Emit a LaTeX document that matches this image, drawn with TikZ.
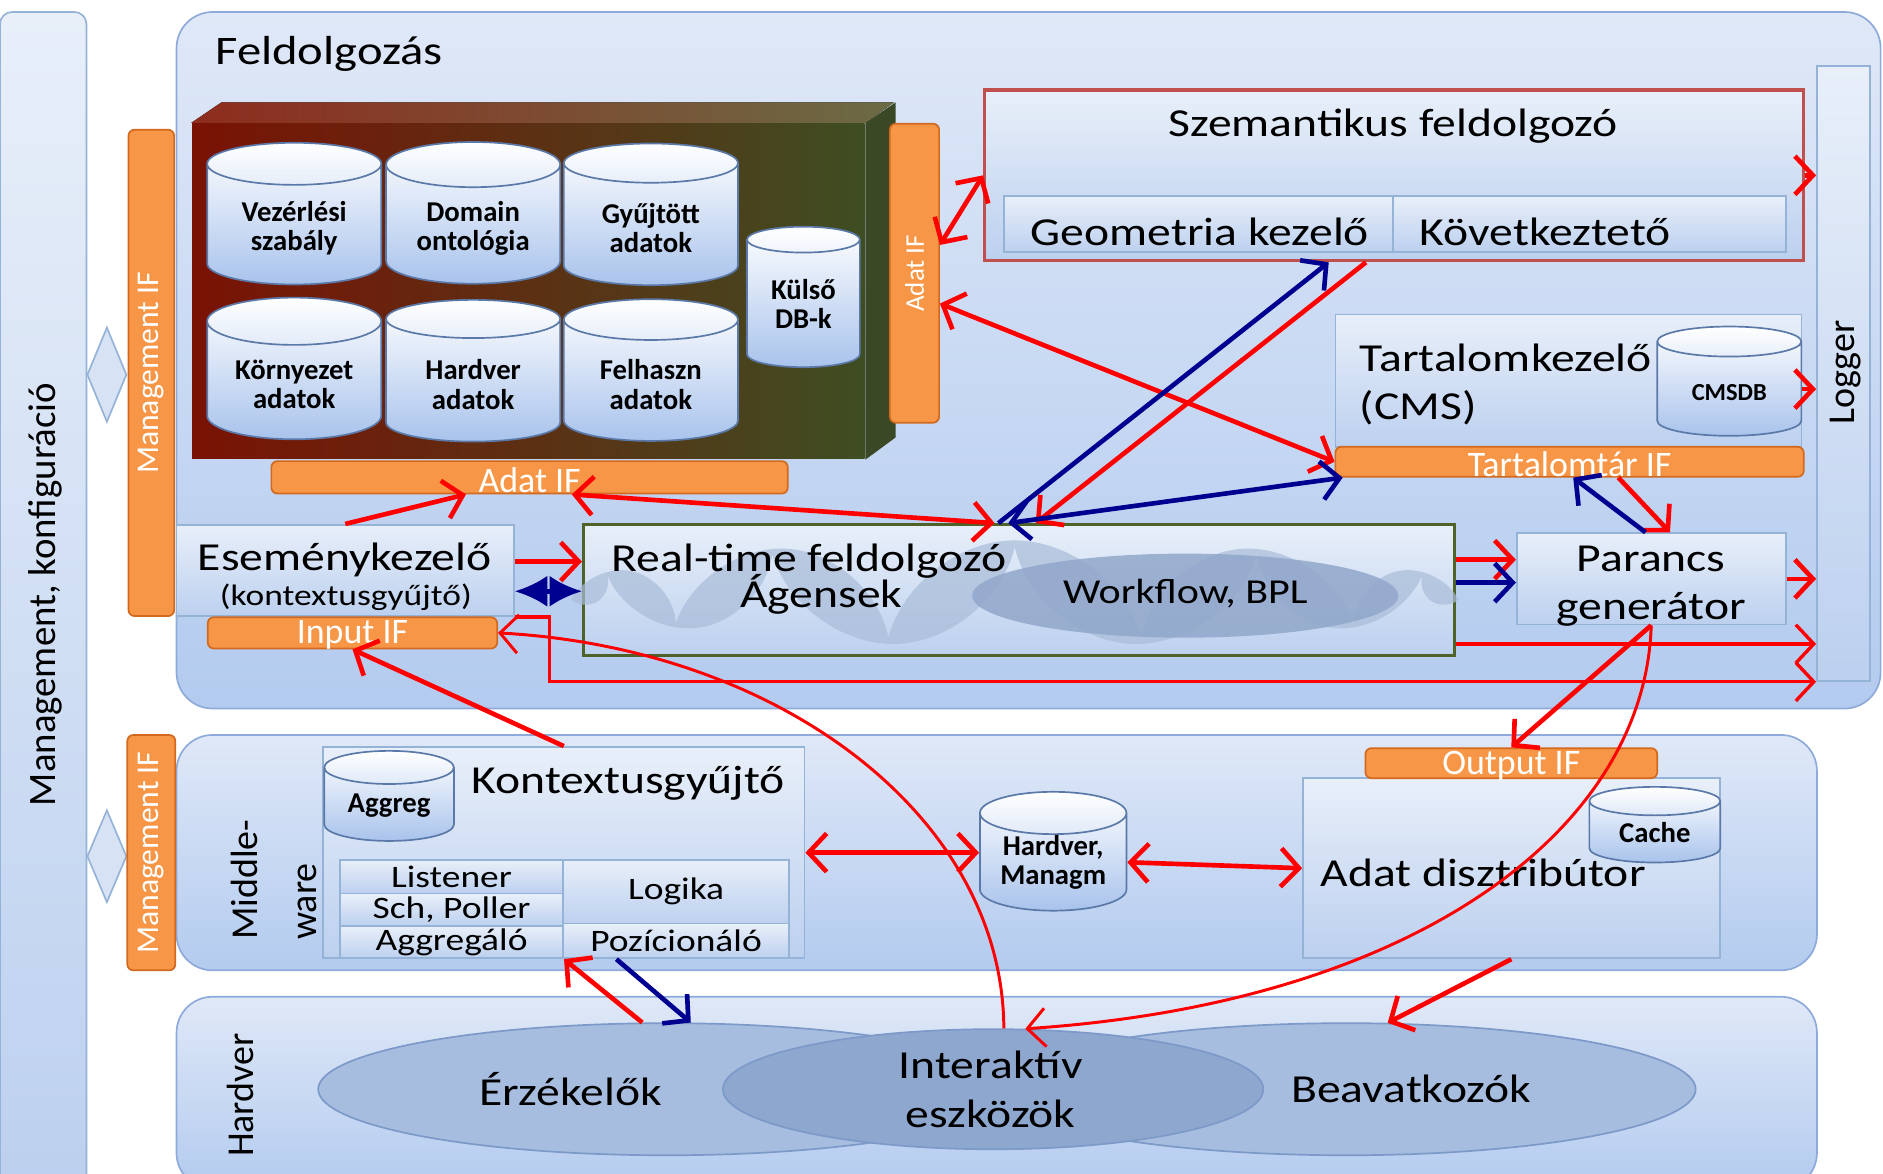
\documentclass[tikz,border=0pt]{standalone}
\usepackage{fontspec}
\setmainfont{Carlito}[FakeStretch=1.2]
\newfontfamily\narrowfont{Carlito}
\usetikzlibrary{shapes.geometric,shapes.symbols,fit,arrows.meta}
\definecolor{panelTop}{HTML}{DFE8F7}
\definecolor{panelBot}{HTML}{B3CBEF}
\definecolor{panelLine}{HTML}{8EAADB}
\definecolor{boxTop}{HTML}{E8EFF9}
\definecolor{boxBot}{HTML}{BCD0EF}
\definecolor{boxLine}{HTML}{95B3D7}
\definecolor{ifOrange}{HTML}{F79646}
\definecolor{ifLine}{HTML}{D2691E}
\definecolor{arrRed}{HTML}{FF0000}
\definecolor{arrBlue}{HTML}{000090}
\definecolor{dbRed}{HTML}{7A1204}
\definecolor{dbOlive}{HTML}{3F4D22}
\definecolor{dbTopRed}{HTML}{8E2C1E}
\definecolor{dbTopOlive}{HTML}{6B6B45}
\definecolor{dbSide}{HTML}{3B4825}
\definecolor{cylBot}{HTML}{A9C3EC}
\definecolor{cylLine}{HTML}{5B79A8}
\definecolor{ellFill}{HTML}{A7BDDF}
\definecolor{ellLine}{HTML}{7C99C8}
\definecolor{ellDark}{HTML}{8EA7CF}
\definecolor{cloudLight}{HTML}{A9BCD8}
\definecolor{cloudDark}{HTML}{91A7CA}
\definecolor{semLine}{HTML}{C0504D}
\definecolor{rtLine}{HTML}{4F6228}
\begin{document}
\begin{tikzpicture}[x=0.1mm,y=-0.1mm,
   >={Straight Barb[length=1.5mm,width=3.2mm]},
   panel/.style={draw=panelLine,rounded corners=3mm,top color=panelTop,bottom color=panelBot,inner sep=0pt},
   box/.style={draw=boxLine,top color=boxTop,bottom color=boxBot,inner sep=0pt},
   ifbar/.style={draw=ifLine,fill=ifOrange,rounded corners=0.5mm,inner sep=0pt},
   iftext/.style={text=white,yshift=-0.2mm,font=\narrowfont\fontsize{8.5}{9}\selectfont},
   ifrot/.style={text=white,rotate=90,font=\narrowfont\fontsize{7.5}{8}\selectfont},
   db/.style={cylinder,shape border rotate=90,aspect=0.4,draw=cylLine,top color=white,bottom color=cylBot,inner sep=0pt,align=center,font=\narrowfont\bfseries\fontsize{6.8}{7}\selectfont},
   dbl/.style={align=center,yshift=-0.3mm,font=\narrowfont\bfseries\fontsize{6.8}{7}\selectfont},
   big/.style={font=\fontsize{9.4}{11.5}\selectfont},
   small/.style={font=\fontsize{7.4}{8.5}\selectfont},
   rot/.style={rotate=90,font=\narrowfont\fontsize{9}{10}\selectfont},
   hw/.style={ellipse,draw=ellLine,fill=ellFill,inner sep=0pt},
   rarr/.style={->,draw=arrRed,line width=1.1pt},
   barr/.style={->,draw=arrBlue,line width=1.1pt},
   rthin/.style={->,draw=arrRed,line width=0.7pt}]
\useasboundingbox (0,0) rectangle (1568,977);
\node[box,rounded corners=1mm,fit={(0,10) (72,990)}] (mgmt) {};
\node[rot,font=\narrowfont\fontsize{9.2}{10}\selectfont] (mgmttext) at (38,495) {Management, konfiguráció};
\node[panel,fit={(147,10) (1566,590)}] (feld) {};
\node[font=\fontsize{9.6}{12}\selectfont,anchor=west] (feldtitle) at (167,45) {Feldolgozás};
\node[ifbar,fit={(107,108) (145,513)}] (mif1) {};
\node[ifrot] (mif1text) at (mif1) {Management IF};
\node[diamond,draw=boxLine,fill=boxBot!60!white,minimum width=3.3mm,minimum height=7.9mm,inner sep=0pt] (link1) at (89,312) {};
\node[diamond,draw=boxLine,fill=boxBot!60!white,minimum width=3.3mm,minimum height=7.7mm,inner sep=0pt] (link2) at (89,713) {};
\node[fit={(160,103) (720,382)},inner sep=0pt,left color=dbRed,right color=dbOlive] (dbbox) {};
\fill[left color=dbTopRed,right color=dbTopOlive] (dbbox.north west) -- ++(25,-17) -- ++(560,0) -- (dbbox.north east) -- cycle;
\fill[dbSide] (dbbox.north east) -- ++(25,-17) -- ++(0,279) -- (dbbox.south east) -- cycle;
\node[db,minimum width=14.5mm,minimum height=11.8mm] (vez) at (245,187) {\phantom{Vezérlési}\\\phantom{szabály}};
\node[dbl] (veztext) at (vez) {Vezérlési\\szabály};
\node[db,minimum width=14.5mm,minimum height=11.8mm] (dom) at (394,187) {\phantom{Domain}\\\phantom{ontológia}};
\node[dbl] (domtext) at (dom) {Domain\\ontológia};
\node[db,minimum width=14.5mm,minimum height=11.8mm] (gyu) at (542,187) {\phantom{Gyűjtött}\\\phantom{adatok}};
\node[dbl] (gyutext) at (gyu) {Gyűjtött\\adatok};
\node[db,minimum width=14.5mm,minimum height=11.8mm] (kor) at (245,317) {\phantom{Környezet}\\\phantom{adatok}};
\node[dbl] (kortext) at (kor) {Környezet\\adatok};
\node[db,minimum width=14.5mm,minimum height=11.8mm] (hwa) at (394,317) {\phantom{Hardver}\\\phantom{adatok}};
\node[dbl] (hwatext) at (hwa) {Hardver\\adatok};
\node[db,minimum width=14.5mm,minimum height=11.8mm] (fel) at (542,317) {\phantom{Felhaszn}\\\phantom{adatok}};
\node[dbl] (feltext) at (fel) {Felhaszn\\adatok};
\node[db,minimum width=9.4mm,minimum height=11.7mm] (kul) at (669,253) {\phantom{Külső}\\\phantom{DB-k}};
\node[dbl,yshift=0.3mm] (kultext) at (kul) {Külső\\DB-k};
\node[ifbar,fit={(226,384) (656,411)}] (adatif1) {};
\node[iftext] (adatif1text) at (adatif1) {Adat IF};
\node[ifbar,fit={(741,103) (782,352)}] (adatif2) {};
\node[ifrot,font=\narrowfont\fontsize{6.4}{7}\selectfont] (adatif2text) at (adatif2) {Adat IF};
\node[box,draw=semLine,line width=0.8pt,fit={(820,75) (1502,217)}] (szem) {};
\node[big] (szemtitle) at (1160,105) {Szemantikus feldolgozó};
\node[box,fit={(836,163) (1160,210)}] (geo) {};
\node[box,fit={(1160,163) (1487,210)}] (kov) {};
\node[big,anchor=west] (geotext) at (846,193) {Geometria kezelő};
\node[big,anchor=west] (kovtext) at (1170,193) {Következtető};
\node[box,fit={(1513,55) (1557,567)}] (log) {};
\node[rot] (logtext) at (1537,310) {Logger};
\node[box,fit={(1112,262) (1500,372)}] (cms) {};
\node[big,anchor=west,align=left] (cmstext) at (1120,320) {Tartalomkezelő\\(CMS)};
\node[db,font=\narrowfont\bfseries\fontsize{5.8}{7}\selectfont,minimum width=12mm,minimum height=9.1mm] (cmsdb) at (1440,324) {\phantom{CMSDB}};
\node[dbl,font=\narrowfont\bfseries\fontsize{5.8}{7}\selectfont] (cmsdbtext) at (cmsdb) {CMSDB};
\node[ifbar,fit={(1112,372) (1502,397)}] (ttif) {};
\node[iftext] (ttiftext) at (ttif) {Tartalomtár IF};
\node[box,fit={(147,437) (428,513)}] (esem) {};
\node[big] (esemtext) at (287,466) {Eseménykezelő};
\node[font=\fontsize{7}{8}\selectfont] (esemsub) at (288,497) {(kontextusgyűjtő)};
\node[ifbar,fit={(173,514) (414,540)}] (inif) {};
\node[iftext] (iniftext) at (inif) {Input IF};
\node[box,draw=rtLine,line width=0.8pt,fit={(486,437) (1211,546)}] (rt) {};
\node[cloud,cloud puffs=11,cloud ignores aspect,fill=cloudLight,opacity=0.7,minimum width=70mm,minimum height=8.8mm,inner sep=0pt] (agcloud) at (845,494) {};
\node[ellipse,fill=cloudDark,opacity=0.85,minimum width=35.5mm,minimum height=7mm,inner sep=0pt] (wfcloud) at (987,496) {};
\node[big,anchor=west] (rttext) at (497,467) {Real-time feldolgozó};
\node[big] (agtext) at (684,495) {Ágensek};
\node[font=\fontsize{8.3}{10}\selectfont] (wftext) at (987,494) {Workflow, BPL};
\node[box,fit={(1263,444) (1487,520)}] (par) {};
\node[big,align=center,yshift=-0.6mm] (partext) at (par) {Parancs\\generátor};
\node[panel,fit={(147,612) (1513,808)}] (mw) {};
\node[ifbar,fit={(106,612) (146,808)}] (mif2) {};
\node[ifrot] (mif2text) at (mif2) {Management IF};
\node[rot,align=left,anchor=west,font=\narrowfont\fontsize{9}{14}\selectfont] (mwtext) at (228,795) {Middle-\\ware};
\node[box,fit={(269,622) (670,798)}] (kon) {};
\node[big] (kontext) at (523,652) {Kontextusgyűjtő};
\node[db,minimum width=10.8mm,minimum height=7.5mm] (aggdb) at (324,670) {\phantom{Aggreg}};
\node[dbl,yshift=0.2mm] (aggdbtext) at (aggdb) {Aggreg};
\node[box,fit={(283,716) (469,744)}] (lis) {};
\node[small] (listext) at (lis) {Listener};
\node[box,fit={(283,744) (469,771)}] (sch) {};
\node[small] (schtext) at (sch) {Sch, Poller};
\node[box,fit={(283,771) (469,798)}] (aggr) {};
\node[small] (aggrtext) at (aggr) {Aggregáló};
\node[box,fit={(469,716) (657,769)}] (logk) {};
\node[small] (logktext) at (logk) {Logika};
\node[box,fit={(469,769) (657,798)}] (poz) {};
\node[small] (poztext) at (poz) {Pozícionáló};
\node[db,minimum width=12.2mm,minimum height=9mm] (hwm) at (877,718) {\phantom{Hardver,}\\\phantom{Managm}};
\node[dbl,yshift=0.3mm] (hwmtext) at (hwm) {Hardver,\\Managm};
\node[box,fit={(1085,648) (1432,798)}] (adis) {};
\node[ifbar,fit={(1137,623) (1380,648)}] (outif) {};
\node[iftext] (outiftext) at (outif) {Output IF};
\node[db,minimum width=10.9mm,minimum height=6.3mm] (cache) at (1378,693) {\phantom{Cache}};
\node[dbl,yshift=0.3mm] (cachetext) at (cache) {Cache};
\node[big] (adistext) at (1235,727) {Adat disztribútor};
\node[panel,fit={(147,830) (1513,990)}] (hwp) {};
\node[rot] (hwptext) at (200,912) {Hardver};
\node[hw,minimum width=58mm,minimum height=11mm] (erz) at (555,907) {};
\node[hw,minimum width=58.2mm,minimum height=11mm] (bea) at (1121,907) {};
\node[hw,fill=ellDark,minimum width=45mm,minimum height=10mm] (int) at (827,907) {};
\node[big] (erztext) at (475,907) {Érzékelők};
\node[big,align=center] (inttext) at (825,907) {Interaktív\\eszközök};
\node[big] (beatext) at (1175,907) {Beavatkozók};
\draw[rarr] (esem.north) -- (adatif1.195);
\draw[rarr,<->] (adatif1.338) -- (rt.110);
\draw[rarr,<->] (adatif2.310) -- (ttif.west);
\draw[rarr,<->] (adatif2.48) -- (szem.west);
\draw[barr] (rt.107) -- (szem.233);
\draw[rarr] (szem.252) -- (rt.76);
\draw[barr,<->] (rt.99) -- (ttif.184);
\draw[rarr] (esem.3) -- (esem.3 -| rt.west);
\draw[barr,<->,>={Latex[length=2.7mm,width=2.6mm]}] (esem.353) -- (esem.353 -| rt.west);
\draw[rarr] (rt.4) -- (rt.4 -| par.west);
\draw[barr] (rt.1) -- (rt.1 -| par.west);
\draw[rarr] (par.east) -- (par.east -| log.west);
\draw[rarr] (szem.east) -- (szem.east -| log.west);
\draw[rarr] (cmsdb.east) -- (cmsdb.east -| log.west);
\draw[rarr,line width=0.8pt] (rt.353) -- (rt.353 -| log.west);
\draw[rarr,line width=0.8pt] (esem.south east) -- ++(29,0) |- (log.south west);
\draw[rarr] (ttif.342) -- (par.68);
\draw[barr] (par.97) -- (ttif.283);
\draw[rarr] (par.south) -- (outif.north);
\draw[rthin] (par.south) .. controls (1370,690) and (1180,835) .. (int.62);
\draw[rthin] (int.80) .. controls (835,680) and (650,540) .. (inif.east);
\draw[rarr] (kon.north) -- (inif.south);
\draw[rarr,<->] (kon.east) -- (kon.east -| hwm.west);
\draw[rarr,<->] (hwm.east) -- (adis.west);
\draw[rarr] (adis.south) -- (bea.58);
\draw[rarr] (erz.110) -- (aggr.south east);
\draw[barr] (poz.197) -- (erz.70);
\end{tikzpicture}
\end{document}
